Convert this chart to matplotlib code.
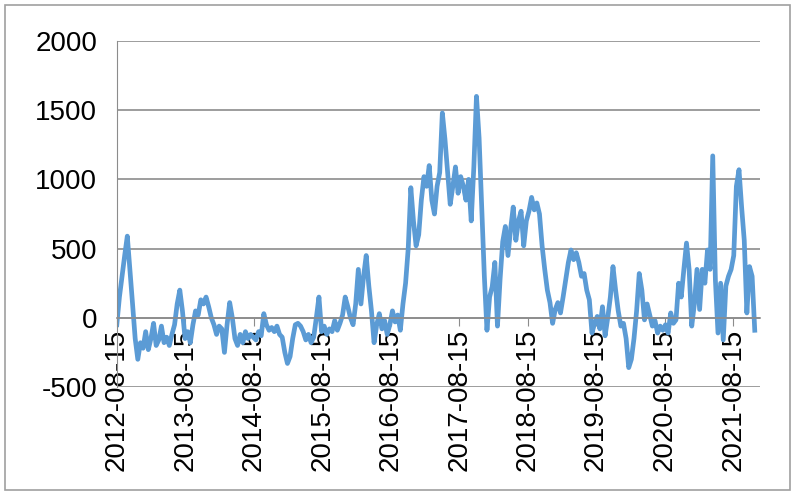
import pandas as pd
import numpy as np
import matplotlib
matplotlib.use('Agg')
import matplotlib.pyplot as plt
from matplotlib.patches import Rectangle

# values, roughly every two weeks, one row per year from 2012-08-15
y2012 = [-50, 150, 300, 450, 590, 350, 100, -150, -300, -180, -220, -100, -230,
         -150, -40, -200, -160, -60, -180, -140, -200, -120, -50, 100, 200, 50]
y2013 = [-150, -100, -180, -50, 50, 20, 130, 100, 150, 80, 0, -50, -120,
         -60, -80, -250, -50, 110, 0, -150, -200, -120, -180, -100, -150, -120]
y2014 = [-140, -160, -100, -130, 30, -50, -90, -70, -100, -60, -120, -140, -250,
         -330, -280, -150, -50, -40, -60, -100, -160, -120, -180, -140, 0, 150]
y2015 = [-100, -60, -120, -80, -100, -20, -90, -40, 20, 150, 80, 0, -50,
         100, 350, 100, 300, 450, 230, 50, -180, -50, 30, -80, -20, -120]
y2016 = [-50, 50, -30, 20, -90, 100, 250, 500, 940, 700, 520, 600, 850,
         1020, 950, 1100, 850, 750, 950, 1050, 1480, 1290, 1050, 820, 950, 1090]
y2017 = [900, 1020, 950, 850, 1000, 700, 1090, 1600, 1300, 800, 300, -90, 150,
         225, 400, -60, 280, 550, 660, 450, 640, 800, 560, 700, 770, 520]
y2018 = [700, 770, 870, 780, 830, 750, 520, 350, 200, 110, -40, 60, 110,
         35, 150, 275, 400, 490, 420, 470, 400, 300, 320, 200, 130, -110]
y2019 = [-40, 10, -80, 80, -130, 0, 150, 370, 200, 50, -60, -40, -150,
         -360, -300, -150, 50, 320, 200, -15, 100, 20, -60, -20, -110, -60]
y2020 = [-90, -50, -110, 35, -40, -15, 250, 150, 350, 540, 350, -60, 100,
         350, 60, 350, 250, 490, 350, 1170, 275, -110, 250, -160, 230, 300]
y2021 = [350, 450, 950, 1070, 800, 560, 35, 370, 300, -90]

values = y2012 + y2013 + y2014 + y2015 + y2016 + y2017 + y2018 + y2019 + y2020 + y2021
dates = pd.date_range('2012-08-15', periods=len(values), freq='14D')

tick_labels = ['%d-08-15' % y for y in range(2012, 2022)]
tick_dates = pd.to_datetime(tick_labels)
y_ticks = [-500, 0, 500, 1000, 1500, 2000]

plt.rcParams['font.family'] = ['Liberation Sans', 'DejaVu Sans']
plt.rcParams['axes.unicode_minus'] = False

fig = plt.figure(figsize=(8, 5), dpi=100)
ax = fig.add_axes([0.146, 0.226, 0.804, 0.692])

ax.plot(dates, values, color='#5B9BD5', linewidth=3.4, solid_joinstyle='round')

ax.set_ylim(-500, 2000)
ax.set_yticks(y_ticks)
ax.set_xlim(pd.Timestamp('2012-08-15'), pd.Timestamp('2022-01-05'))
ax.set_xticks(tick_dates)
ax.set_xticklabels(tick_labels)

ax.grid(axis='y', color='#8c8c8c', linewidth=1.2)
ax.set_axisbelow(True)
for s in ['top', 'right']:
    ax.spines[s].set_visible(False)
ax.spines['left'].set_color('#8c8c8c')
ax.spines['bottom'].set_color('#8c8c8c')
ax.spines['bottom'].set_position(('data', 0))
ax.spines['bottom'].set_linewidth(1.2)

ax.tick_params(axis='y', length=0, pad=14, labelsize=20)
ax.tick_params(axis='x', direction='out', length=6, color='#8c8c8c', pad=2,
               labelsize=20, labelrotation=90)
plt.setp(ax.get_xticklabels(), ha='center', va='top')

# outer chart border
fig.patches.append(Rectangle((0.006, 0.02), 0.982, 0.97, transform=fig.transFigure,
                             fill=False, edgecolor='#a0a0a0', linewidth=1.2))

fig.savefig('out.png', dpi=100)
